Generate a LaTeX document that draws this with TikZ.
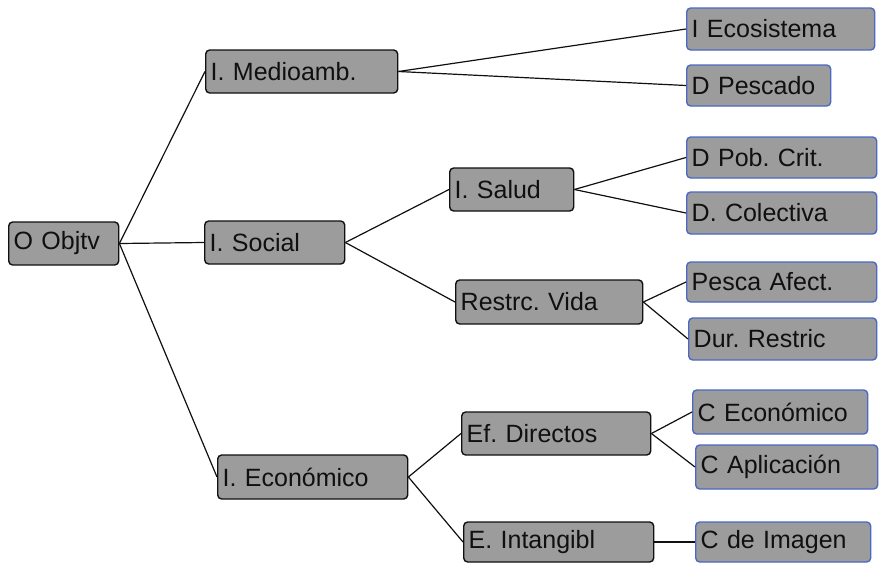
\documentclass[tikz,border=0pt]{standalone}
\usepackage{fontspec}
\setmainfont{Liberation Sans}
\usepackage{tikz}
\usetikzlibrary{positioning}
\usepackage{xcolor}
\definecolor{boxfill}{HTML}{9C9C9C}
\definecolor{ink}{HTML}{101010}
\definecolor{leafline}{HTML}{4A68C4}
\tikzset{
  every node/.style={font=\fontsize{25}{28}\selectfont\frenchspacing,text=ink},
  box/.style={draw=ink,line width=1.4pt,rounded corners=4pt,fill=boxfill,anchor=west,align=left,inner xsep=5pt,inner ysep=0pt,minimum height=43pt},
  leafbox/.style={box,draw=leafline},
  link/.style={draw=ink,line width=1.2pt},
}

\begin{document}
\begin{tikzpicture}[x=1pt,y=-1pt]
\useasboundingbox (0,0) rectangle (879,563);

% root and first level
\node[box,text width=100pt] (objtv) at (8,243.5) {O Objtv};
\node[box,text width=182pt] (medio) at (205,71.5) {I. Medioamb.};
\node[box,text width=130pt] (social) at (204,242.5) {I. Social};
\node[box,text width=180pt,minimum height=44pt] (econ) at (217,477) {I. Económico};

% second level
\node[box,text width=114pt] (salud) at (449,189.5) {I. Salud};
\node[box,text width=177pt,minimum height=44pt] (restr) at (455,302) {Restrc. Vida};
\node[box,text width=179pt] (efdir) at (461,433.5) {Ef. Directos};
\node[box,text width=180pt,minimum height=40pt] (intang) at (463,542) {E. Intangibl};

% leaves
\node[leafbox,text width=178pt,minimum height=42pt] (ecosis) at (686,29) {I Ecosistema};
\node[leafbox,text width=134pt,minimum height=41pt] (pescado) at (686,85.5) {D Pescado};
\node[leafbox,text width=180pt,minimum height=41pt] (pobcrit) at (686,157.5) {D Pob. Crit.};
\node[leafbox,text width=180pt,minimum height=42pt] (colect) at (686,213) {D. Colectiva};
\node[leafbox,text width=180pt,minimum height=40pt] (pescaf) at (686,282) {Pesca Afect.};
\node[leafbox,text width=178pt,minimum height=42pt] (durres) at (688,339) {Dur. Restric};
\node[leafbox,text width=165pt,minimum height=44pt] (ceco) at (692,412) {C Económico};
\node[leafbox,text width=172pt,minimum height=44pt] (capl) at (695,467) {C Aplicación};
\node[leafbox,text width=165pt,minimum height=40pt] (cimag) at (695,542) {C de Imagen};

% connectors
\draw[link] (objtv.east) -- (medio.west);
\draw[link] (objtv.east) -- (social.west);
\draw[link] (objtv.east) -- (econ.west);
\draw[link] (medio.east) -- (ecosis.west);
\draw[link] (medio.east) -- (pescado.west);
\draw[link] (social.east) -- (salud.west);
\draw[link] (social.east) -- (restr.west);
\draw[link] (salud.east) -- (pobcrit.west);
\draw[link] (salud.east) -- (colect.west);
\draw[link] (restr.east) -- (pescaf.west);
\draw[link] (restr.east) -- (durres.west);
\draw[link] (econ.east) -- (efdir.west);
\draw[link] (econ.east) -- (intang.west);
\draw[link] (efdir.east) -- (ceco.west);
\draw[link] (efdir.east) -- (capl.west);
\draw[link] (intang.east) -- (cimag.west);

\end{tikzpicture}
\end{document}
